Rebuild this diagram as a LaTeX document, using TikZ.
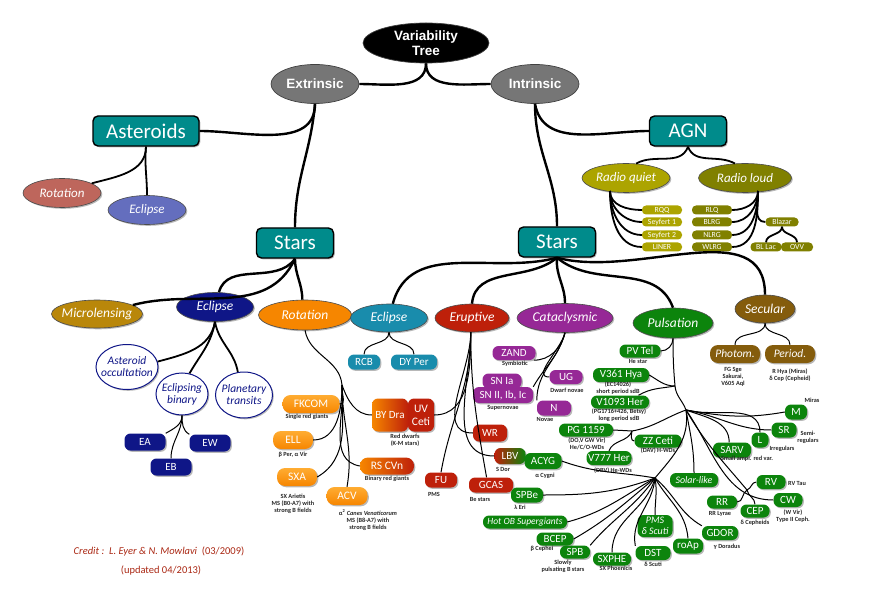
\documentclass[tikz,border=0pt]{standalone}
\usepackage{fontspec}
\setmainfont{Carlito}
\newfontfamily\headfont{Liberation Sans}
\usepackage{tikz}
\usetikzlibrary{shapes.geometric, shadows}
\definecolor{stemteal}{RGB}{0, 139, 139}
\definecolor{rootgray}{RGB}{118, 118, 118}
\definecolor{astrot}{RGB}{190, 102, 92}
\definecolor{astecl}{RGB}{100, 110, 190}
\definecolor{microgold}{RGB}{185, 135, 10}
\definecolor{eclnavy}{RGB}{15, 22, 135}
\definecolor{rotorange}{RGB}{246, 134, 0}
\definecolor{orangetop}{RGB}{255, 172, 50}
\definecolor{ecltealblue}{RGB}{25, 140, 172}
\definecolor{erupred}{RGB}{190, 32, 10}
\definecolor{catapurple}{RGB}{150, 40, 150}
\definecolor{pulsgreen}{RGB}{12, 132, 12}
\definecolor{secbrown}{RGB}{132, 92, 12}
\definecolor{quietolive}{RGB}{172, 164, 0}
\definecolor{loudolive}{RGB}{128, 128, 0}
\definecolor{creditred}{RGB}{170, 40, 20}

\begin{document}
\begin{tikzpicture}[
    x=1pt, y=-1pt,
    trunk/.style={line width=2.4pt},
    branch/.style={line width=1.8pt},
    twig/.style={line width=1pt},
    softshadow/.style={drop shadow={shadow xshift=1.3pt, shadow yshift=-1.3pt, opacity=0.28, fill=black}},
    headoval/.style={ellipse, draw=black!75, line width=0.7pt, fill=rootgray, text=white, font=\headfont\bfseries\fontsize{13.5}{15}\selectfont, align=center, inner sep=0pt, minimum width=88pt, minimum height=39pt},
    bigbox/.style={rectangle, rounded corners=5pt, draw=black, line width=1.4pt, fill=stemteal, text=white, font=\fontsize{21}{22}\selectfont, inner sep=0pt, minimum height=30pt, softshadow},
    oval/.style={ellipse, draw=black!70, line width=0.6pt, text=white, font=\itshape\fontsize{13.5}{15}\selectfont, inner xsep=-4pt, inner ysep=0pt, softshadow},
    ringoval/.style={ellipse, draw=eclnavy, line width=1pt, fill=white, text=eclnavy, font=\itshape\fontsize{11.5}{12}\selectfont, align=center, inner xsep=-5pt, inner ysep=0pt, softshadow},
    pill/.style={rectangle, rounded corners=6pt, text=white, font=\fontsize{11}{12}\selectfont, align=center, inner sep=0pt, minimum height=15pt, softshadow},
    orangepill/.style={pill, top color=orangetop, bottom color=rotorange, minimum height=18pt, rounded corners=8pt, font=\fontsize{11.5}{12}\selectfont},
    agnpill/.style={rectangle, rounded corners=4pt, text=white, font=\fontsize{7.8}{8}\selectfont, inner sep=0pt, minimum height=9pt, minimum width=40pt},
    note/.style={font=\bfseries\fontsize{6.3}{7}\selectfont, text=black!85, align=center, inner sep=0pt}
]
    \useasboundingbox (0,0) rectangle (893,593);

    % Top of the tree
    \node (root) [headoval, fill=black, minimum width=126pt, minimum height=40pt] at (426,43) {Variability\\Tree};
    \node (ext) [headoval] at (315,84) {Extrinsic};
    \node (int) [headoval] at (535,84) {Intrinsic};

    % Main groups
    \node (ast) [bigbox, minimum width=106pt] at (146,131) {Asteroids};
    \node (stars_ext) [bigbox, minimum width=77pt] at (295,243) {Stars};
    \node (stars_int) [bigbox, minimum width=77pt] at (557,242) {Stars};
    \node (agn) [bigbox, minimum width=77pt] at (688,131) {AGN};

    % Asteroids
    \node (ast_rot) [oval, fill=astrot, minimum width=78pt, minimum height=29pt, font=\itshape\fontsize{13}{14}\selectfont] at (62,193) {Rotation};
    \node (ast_ecl) [oval, fill=astecl, minimum width=78pt, minimum height=29pt, font=\itshape\fontsize{13}{14}\selectfont] at (147,210) {Eclipse};

    % AGN
    \node (radq) [oval, fill=quietolive, minimum width=88pt, minimum height=29pt, font=\itshape\fontsize{13}{14}\selectfont] at (626,178) {Radio quiet};
    \node (radl) [oval, fill=loudolive, minimum width=93pt, minimum height=29pt, font=\itshape\fontsize{13}{14}\selectfont] at (745,178) {Radio loud};
    \node (rqq) [agnpill, fill=quietolive] at (662,210) {RQQ};
    \node (sey1) [agnpill, fill=quietolive] at (662,222) {Seyfert 1};
    \node (sey2) [agnpill, fill=quietolive] at (662,235) {Seyfert 2};
    \node (liner) [agnpill, fill=quietolive] at (662,247) {LINER};
    \node (rlq) [agnpill, fill=loudolive] at (712,210) {RLQ};
    \node (blrg) [agnpill, fill=loudolive] at (712,222) {BLRG};
    \node (nlrg) [agnpill, fill=loudolive] at (712,235) {NLRG};
    \node (wlrg) [agnpill, fill=loudolive] at (712,247) {WLRG};
    \node (blazar) [agnpill, fill=loudolive, minimum width=33pt] at (782,222) {Blazar};
    \node (bllac) [agnpill, fill=loudolive, minimum width=31pt] at (766,247) {BL Lac};
    \node (ovv) [agnpill, fill=loudolive, minimum width=32pt] at (797,247) {OVV};

    % Extrinsic stars
    \node (micro) [oval, fill=microgold, minimum width=91pt, minimum height=28pt] at (97,314) {Microlensing};
    \node (ecl_ext) [oval, fill=eclnavy, minimum width=77pt, minimum height=29pt] at (215,307) {Eclipse};
    \node (rot) [oval, fill=rotorange, minimum width=93pt, minimum height=30pt] at (305,315) {Rotation};

    \node (occ) [ringoval, minimum width=62pt, minimum height=45pt] at (127,367) {Asteroid\\occultation};
    \node (ebin) [ringoval, minimum width=52pt, minimum height=42pt] at (182,394) {Eclipsing\\binary};
    \node (ptran) [ringoval, minimum width=57pt, minimum height=46pt] at (244,395) {Planetary\\transits};
    \node (ea) [pill, fill=eclnavy, minimum width=41pt, minimum height=17pt] at (145,442) {EA};
    \node (ew) [pill, fill=eclnavy, minimum width=41pt, minimum height=17pt] at (210,443) {EW};
    \node (eb) [pill, fill=eclnavy, minimum width=41pt, minimum height=17pt] at (171,467) {EB};

    \node (fkcom) [orangepill, minimum width=57pt] at (311,404) {FKCOM};
    \node (ell) [orangepill, minimum width=40pt] at (293,440) {ELL};
    \node (sxa) [orangepill, minimum width=40pt] at (297,477) {SXA};
    \node (acv) [orangepill, minimum width=41pt] at (347,496) {ACV};
    \node (rscvn) [orangepill, left color=rotorange, right color=erupred, minimum width=54pt, minimum height=17pt] at (387,466) {RS CVn};
    \node (bydra) [orangepill, left color=rotorange, right color=erupred, minimum width=36pt, minimum height=33pt, rounded corners=6pt, font=\fontsize{11}{12}\selectfont] at (390,415) {BY Dra};
    \node (uvceti) [pill, fill=erupred, minimum width=26pt, minimum height=33pt, rounded corners=6pt, font=\fontsize{11.5}{13}\selectfont] at (421,415) {UV\\Ceti};

    \node (note_fkcom) [note] at (307,417) {Single red giants};
    \node (note_ell) [note] at (293,455) {β Per, α Vir};
    \node (note_sxa) [note] at (293,504) {SX Arietis\\MS (B0-A7) with\\strong B fields};
    \node (note_acv) [note] at (368,520) {α\textsuperscript{2} \textit{Canes Venaticorum}\\MS (B8-A7) with\\strong B fields};
    \node (note_rscvn) [note] at (387,479) {Binary red giants};
    \node (note_bydra) [note] at (405,440) {Red dwarfs\\(K-M stars)};

    % Intrinsic stars
    \node (ecl_int) [oval, fill=ecltealblue, minimum width=77pt, minimum height=28pt] at (389,318) {Eclipse};
    \node (erupt) [oval, fill=erupred, minimum width=74pt, minimum height=28pt] at (472,318) {Eruptive};
    \node (cata) [oval, fill=catapurple, minimum width=96pt, minimum height=29pt] at (565,318) {Cataclysmic};
    \node (puls) [oval, fill=pulsgreen, minimum width=80pt, minimum height=30pt] at (673,323) {Pulsation};
    \node (secular) [oval, fill=secbrown, minimum width=60pt, minimum height=28pt] at (765,309) {Secular};

    \node (rcb) [pill, fill=ecltealblue, minimum width=32pt] at (364,362) {RCB};
    \node (dyper) [pill, fill=ecltealblue, minimum width=46pt] at (414,362) {DY Per};

    \node (wr) [pill, fill=erupred, minimum width=34pt, minimum height=17pt] at (490,433) {WR};
    \node (lbv) [pill, left color=erupred, right color=pulsgreen, minimum width=31pt, minimum height=16pt] at (510,456) {LBV};
    \node (acyg) [pill, fill=pulsgreen, minimum width=37pt, minimum height=16pt] at (543,461) {ACYG};
    \node (fu) [pill, fill=erupred, minimum width=32pt] at (441,480) {FU};
    \node (gcas) [pill, fill=erupred, minimum width=44pt] at (491,485) {GCAS};
    \node (spbe) [pill, fill=pulsgreen, minimum width=32pt] at (527,495) {SPBe};
    \node (note_lbv) [note] at (503,469) {S Dor};
    \node (note_acyg) [note] at (545,476) {α Cygni};
    \node (note_fu) [note] at (434,494) {PMS};
    \node (note_gcas) [note] at (480,499) {Be stars};
    \node (note_spbe) [note] at (520,507) {λ Eri};

    \node (zand) [pill, fill=catapurple, minimum width=43pt, minimum height=14pt] at (514,353) {ZAND};
    \node (snia) [pill, fill=catapurple, minimum width=39pt, minimum height=15pt] at (502,381) {SN Ia};
    \node (snii) [pill, fill=catapurple, minimum width=60pt, minimum height=16pt] at (503,395) {SN II, Ib, Ic};
    \node (ug) [pill, fill=catapurple, minimum width=33pt, minimum height=14pt] at (566,377) {UG};
    \node (nn) [pill, fill=catapurple, minimum width=34pt, minimum height=15pt] at (554,408) {N};
    \node (note_zand) [note] at (515,364) {Symbiotic};
    \node (note_sn) [note] at (503,408) {Supernovae};
    \node (note_ug) [note] at (567,390) {Dwarf novae};
    \node (note_nn) [note] at (545,419) {Novae};

    % Pulsation
    \node (pvtel) [pill, fill=pulsgreen, minimum width=41pt, minimum height=13pt] at (640,351) {PV Tel};
    \node (v361) [pill, fill=pulsgreen, minimum width=56pt, minimum height=14pt] at (621,375) {V361 Hya};
    \node (v1093) [pill, fill=pulsgreen, minimum width=58pt, minimum height=13pt] at (620,402) {V1093 Her};
    \node (pg1159) [pill, fill=pulsgreen, minimum width=54pt, minimum height=13pt] at (586,430) {PG 1159};
    \node (zzceti) [pill, fill=pulsgreen, minimum width=47pt, minimum height=13pt] at (658,441) {ZZ Ceti};
    \node (v777) [pill, fill=pulsgreen, minimum width=45pt, minimum height=14pt] at (609,458) {V777 Her};
    \node (hotob) [pill, fill=pulsgreen, minimum width=84pt, minimum height=13pt, font=\itshape\fontsize{9.5}{10}\selectfont] at (525,522) {Hot OB Supergiants};
    \node (bcep) [pill, fill=pulsgreen, minimum width=37pt, minimum height=13pt] at (555,539) {BCEP};
    \node (spb) [pill, fill=pulsgreen, minimum width=30pt, minimum height=13pt] at (575,552) {SPB};
    \node (sxphe) [pill, fill=pulsgreen, minimum width=38pt, minimum height=13pt] at (612,559) {SXPHE};
    \node (pms) [pill, fill=pulsgreen, minimum width=35pt, minimum height=22pt, font=\itshape\fontsize{10}{10.5}\selectfont] at (655,526) {PMS\\δ Scuti};
    \node (dst) [pill, fill=pulsgreen, minimum width=35pt, minimum height=14pt] at (653,553) {DST};
    \node (roap) [pill, fill=pulsgreen, minimum width=30pt, minimum height=15pt] at (688,546) {roAp};
    \node (gdor) [pill, fill=pulsgreen, minimum width=36pt, minimum height=14pt] at (720,533) {GDOR};
    \node (solar) [pill, fill=pulsgreen, minimum width=48pt, minimum height=14pt, font=\itshape\fontsize{10}{11}\selectfont] at (694,480) {Solar-like};
    \node (sarv) [pill, fill=pulsgreen, minimum width=38pt, minimum height=15pt] at (732,450) {SARV};
    \node (ll) [pill, fill=pulsgreen, minimum width=17pt, minimum height=15pt] at (760,440) {L};
    \node (sr) [pill, fill=pulsgreen, minimum width=25pt, minimum height=15pt] at (784,430) {SR};
    \node (mm) [pill, fill=pulsgreen, minimum width=22pt, minimum height=15pt] at (796,412) {M};
    \node (rv) [pill, fill=pulsgreen, minimum width=29pt, minimum height=14pt] at (771,482) {RV};
    \node (cw) [pill, fill=pulsgreen, minimum width=29pt, minimum height=14pt] at (788,500) {CW};
    \node (rr) [pill, fill=pulsgreen, minimum width=30pt, minimum height=13pt] at (722,502) {RR};
    \node (cep) [pill, fill=pulsgreen, minimum width=29pt, minimum height=13pt] at (755,511) {CEP};

    \node (note_pvtel) [note] at (638,361) {He star};
    \node (note_v361) [note] at (618,388) {(EC14026)\\short period sdB};
    \node (note_v1093) [note] at (619,415) {(PG1716+426, Betsy)\\long period sdB};
    \node (note_pg) [note] at (587,444) {(DO,V GW Vir)\\He/C/O-WDs};
    \node (note_zz) [note] at (658,451) {(DAV) H-WDs};
    \node (note_v777) [note] at (613,471) {(DBV) He-WDs};
    \node (note_sarv) [note] at (747,459) {Small ampl. red var.};
    \node (note_ll) [note] at (782,449) {Irregulars};
    \node (note_sr) [note] at (808,437) {Semi-\\regulars};
    \node (note_mm) [note] at (812,400) {Miras};
    \node (note_rv) [note] at (797,483) {RV Tau};
    \node (note_cw) [note] at (793,516) {(W Vir)\\Type II Ceph.};
    \node (note_rr) [note] at (720,514) {RR Lyrae};
    \node (note_cep) [note] at (755,523) {δ Cepheids};
    \node (note_gdor) [note] at (727,547) {γ Doradus};
    \node (note_dst) [note] at (653,564) {δ Scuti};
    \node (note_sxphe) [note] at (616,568) {SX Phoenicis};
    \node (note_spb) [note] at (563,566) {Slowly\\pulsating B stars};
    \node (note_bcep) [note] at (542,549) {β Cephei};

    % Secular
    \node (photom) [pill, fill=secbrown, minimum width=50pt, minimum height=18pt, rounded corners=8pt, font=\itshape\fontsize{11.5}{12}\selectfont] at (735,354) {Photom.};
    \node (period) [pill, fill=secbrown, minimum width=50pt, minimum height=18pt, rounded corners=8pt, font=\itshape\fontsize{11.5}{12}\selectfont] at (790,354) {Period.};
    \node (note_photom) [note] at (733,377) {FG Sge\\Sakurai,\\V605 Aql};
    \node (note_period) [note] at (790,375) {R Hya (Miras)\\δ Cep (Cepheid)};

    % Credit
    \node (credit) [font=\fontsize{10.5}{11}\selectfont, text=creditred] at (159,552) {\textit{Credit :\ \ L. Eyer \& N. Mowlavi}\ \ (03/2009)};
    \node (updated) [font=\fontsize{10.5}{11}\selectfont, text=creditred] at (161,571) {(updated 04/2013)};

    % Connectors - top
    \draw [trunk] (root.south) to[out=-90,in=0] (ext.east);
    \draw [trunk] (root.south) to[out=-90,in=180] (int.west);
    \draw [trunk] (ext.south) to[out=-90,in=0] (ast.east);
    \draw [trunk] (ext.south) to[out=-95,in=90] (stars_ext.north);
    \draw [trunk] (int.south) to[out=-90,in=90] (stars_int.north);
    \draw [trunk] (int.south) to[out=-80,in=180] (agn.west);

    % Connectors - asteroids
    \draw [branch] (ast.south) to[out=-90,in=15] (ast_rot.18);
    \draw [branch] (ast.south) to[out=-95,in=90] (ast_ecl.north);

    % Connectors - AGN
    \coordinate (radq_foot) at (610,191);
    \coordinate (radl_foot) at (758,191);
    \draw [branch] (agn.south) to[out=-110,in=30] (radq.55);
    \draw [branch] (agn.south) to[out=-70,in=150] (radl.125);
    \draw [branch] (radq_foot) to[out=-90,in=180] (rqq.west);
    \draw [branch] (radq_foot) to[out=-90,in=180] (sey1.west);
    \draw [branch] (radq_foot) to[out=-90,in=180] (sey2.west);
    \draw [branch] (radq_foot) to[out=-90,in=180] (liner.west);
    \draw [branch] (radl_foot) to[out=-90,in=0] (rlq.east);
    \draw [branch] (radl_foot) to[out=-90,in=0] (blrg.east);
    \draw [branch] (radl_foot) to[out=-90,in=0] (nlrg.east);
    \draw [branch] (radl_foot) to[out=-90,in=0] (wlrg.east);
    \draw [branch] (radl_foot) to[out=-90,in=180] (blazar.west);
    \draw [branch] (blazar.south) to[out=-90,in=90] (bllac.north);
    \draw [branch] (blazar.south) to[out=-90,in=90] (ovv.north);

    % Connectors - extrinsic stars
    \draw [trunk] (stars_ext.south) to[out=-115,in=15] (micro.14);
    \draw [trunk] (stars_ext.south) to[out=-125,in=75] (ecl_ext.75);
    \draw [trunk] (stars_ext.south) to[out=-90,in=90] (rot.100);
    \draw [branch] (ecl_ext.south) to[out=-100,in=15] (occ.10);
    \draw [branch] (ecl_ext.south) to[out=-100,in=60] (ebin.70);
    \draw [branch] (ecl_ext.south) to[out=-80,in=100] (ptran.105);
    \draw [twig] (ebin.south) to[out=-90,in=30] (ea.north east);
    \draw [twig] (ebin.south) to[out=-90,in=90] (eb.north);
    \draw [twig] (ebin.south) to[out=-90,in=150] (ew.north west);

    \coordinate (rot_knot) at (342,385);
    \draw [twig] (rot.south) to[out=-80,in=95] (rot_knot);
    \draw [twig] (rot_knot) to[out=-100,in=0] (fkcom.east);
    \draw [twig] (rot_knot) to[out=-70,in=180] (bydra.west);
    \draw [twig] (rot_knot) to[out=-90,in=0] (ell.east);
    \draw [twig] (rot_knot) to[out=-90,in=30] (sxa.east);
    \draw [twig] (rot_knot) to[out=-85,in=170] (rscvn.west);
    \draw [twig] (rot_knot) to[out=-90,in=80] (acv.north);

    % Connectors - intrinsic stars
    \draw [trunk] (stars_int.south) to[out=-165,in=75] (ecl_int.75);
    \draw [trunk] (stars_int.south) to[out=-140,in=85] (erupt.north);
    \draw [trunk] (stars_int.south) to[out=-95,in=90] (cata.north);
    \draw [trunk] (stars_int.south) to[out=-40,in=110] (puls.north);
    \draw [trunk] (stars_int.south) to[out=-15,in=90] (secular.north);

    \draw [twig] (ecl_int.south) to[out=-90,in=90] (rcb.north);
    \draw [twig] (ecl_int.south) to[out=-90,in=90] (dyper.north);

    \draw [twig] (erupt.-95) to[out=-90,in=0] (uvceti.east);
    \draw [twig] (erupt.-95) to[out=-90,in=180] (wr.west);
    \draw [twig] (erupt.-95) to[out=-90,in=180] (lbv.west);
    \draw [twig] (erupt.-95) to[out=-90,in=80] (fu.north);
    \draw [twig] (erupt.-95) to[out=-90,in=100] (gcas.120);

    \draw [twig] (cata.south) to[out=-105,in=0] (zand.-20);
    \draw [twig] (cata.south) to[out=-105,in=60] (snii.north east);
    \draw [twig] (cata.south) to[out=-105,in=180] (ug.west);
    \draw [twig] (cata.south) to[out=-105,in=90] (nn.north west);

    \coordinate (puls_v) at (675,386);
    \coordinate (puls_k) at (686,410);
    \coordinate (pg_k) at (632,431);
    \coordinate (puls_hub) at (655,478);
    \coordinate (cep_hub) at (747,490);
    \draw [twig] (puls.south) to[out=-90,in=95] (puls_v) to[out=-85,in=110] (puls_k);
    \draw [twig] (puls.south) to[out=-90,in=0] (pvtel.east);
    \draw [twig] (v361.east) to[out=-30,in=180] (puls_v);
    \draw [twig] (v1093.20) to[out=30,in=190] (puls_v);
    \draw [twig] (puls_k) to[out=-160,in=10] (pg_k) -- (pg1159.east);
    \draw [twig] (pg_k) to[out=-100,in=180] (zzceti.west);
    \draw [twig] (pg_k) to[out=-110,in=70] (v777.north);
    \draw [twig] (puls_k) to[out=-82,in=50] (puls_hub);
    \draw [twig] (puls_hub) to[out=170,in=-20] (acyg.east);
    \draw [twig] (puls_hub) to[out=200,in=0] (spbe.east);
    \draw [twig] (puls_hub) to[out=210,in=15] (hotob.east);
    \draw [twig] (puls_hub) to[out=220,in=30] (bcep.east);
    \draw [twig] (puls_hub) to[out=235,in=50] (spb.north east);
    \draw [twig] (puls_hub) to[out=255,in=90] (sxphe.north);
    \draw [twig] (puls_hub) to[out=265,in=100] (dst.north west);
    \draw [twig] (puls_hub) to[out=-80,in=90] (pms.north);
    \draw [twig] (puls_hub) to[out=-60,in=95] (roap.north);
    \draw [twig] (puls_hub) to[out=-40,in=150] (gdor.north west);
    \draw [twig] (puls_k) to[out=-80,in=90] (solar.north);
    \draw [twig] (puls_k) to[out=-20,in=90] (sarv.110);
    \draw [twig] (puls_k) to[out=-15,in=90] (ll.north);
    \draw [twig] (puls_k) to[out=-10,in=180] (sr.west);
    \draw [twig] (puls_k) to[out=-10,in=190] (mm.west);
    \draw [twig] (puls_k) to[out=-60,in=130] (cep_hub);
    \draw [twig] (cep_hub) to[out=-150,in=0] (rr.east);
    \draw [twig] (cep_hub) to[out=-80,in=90] (cep.north);
    \draw [twig] (cep_hub) to[out=20,in=180] (rv.west);
    \draw [twig] (puls_k) to[out=-55,in=180] (cw.west);

    \draw [twig] (secular.south) to[out=-90,in=90] (photom.north);
    \draw [twig] (secular.south) to[out=-90,in=90] (period.north);

\end{tikzpicture}
\end{document}
